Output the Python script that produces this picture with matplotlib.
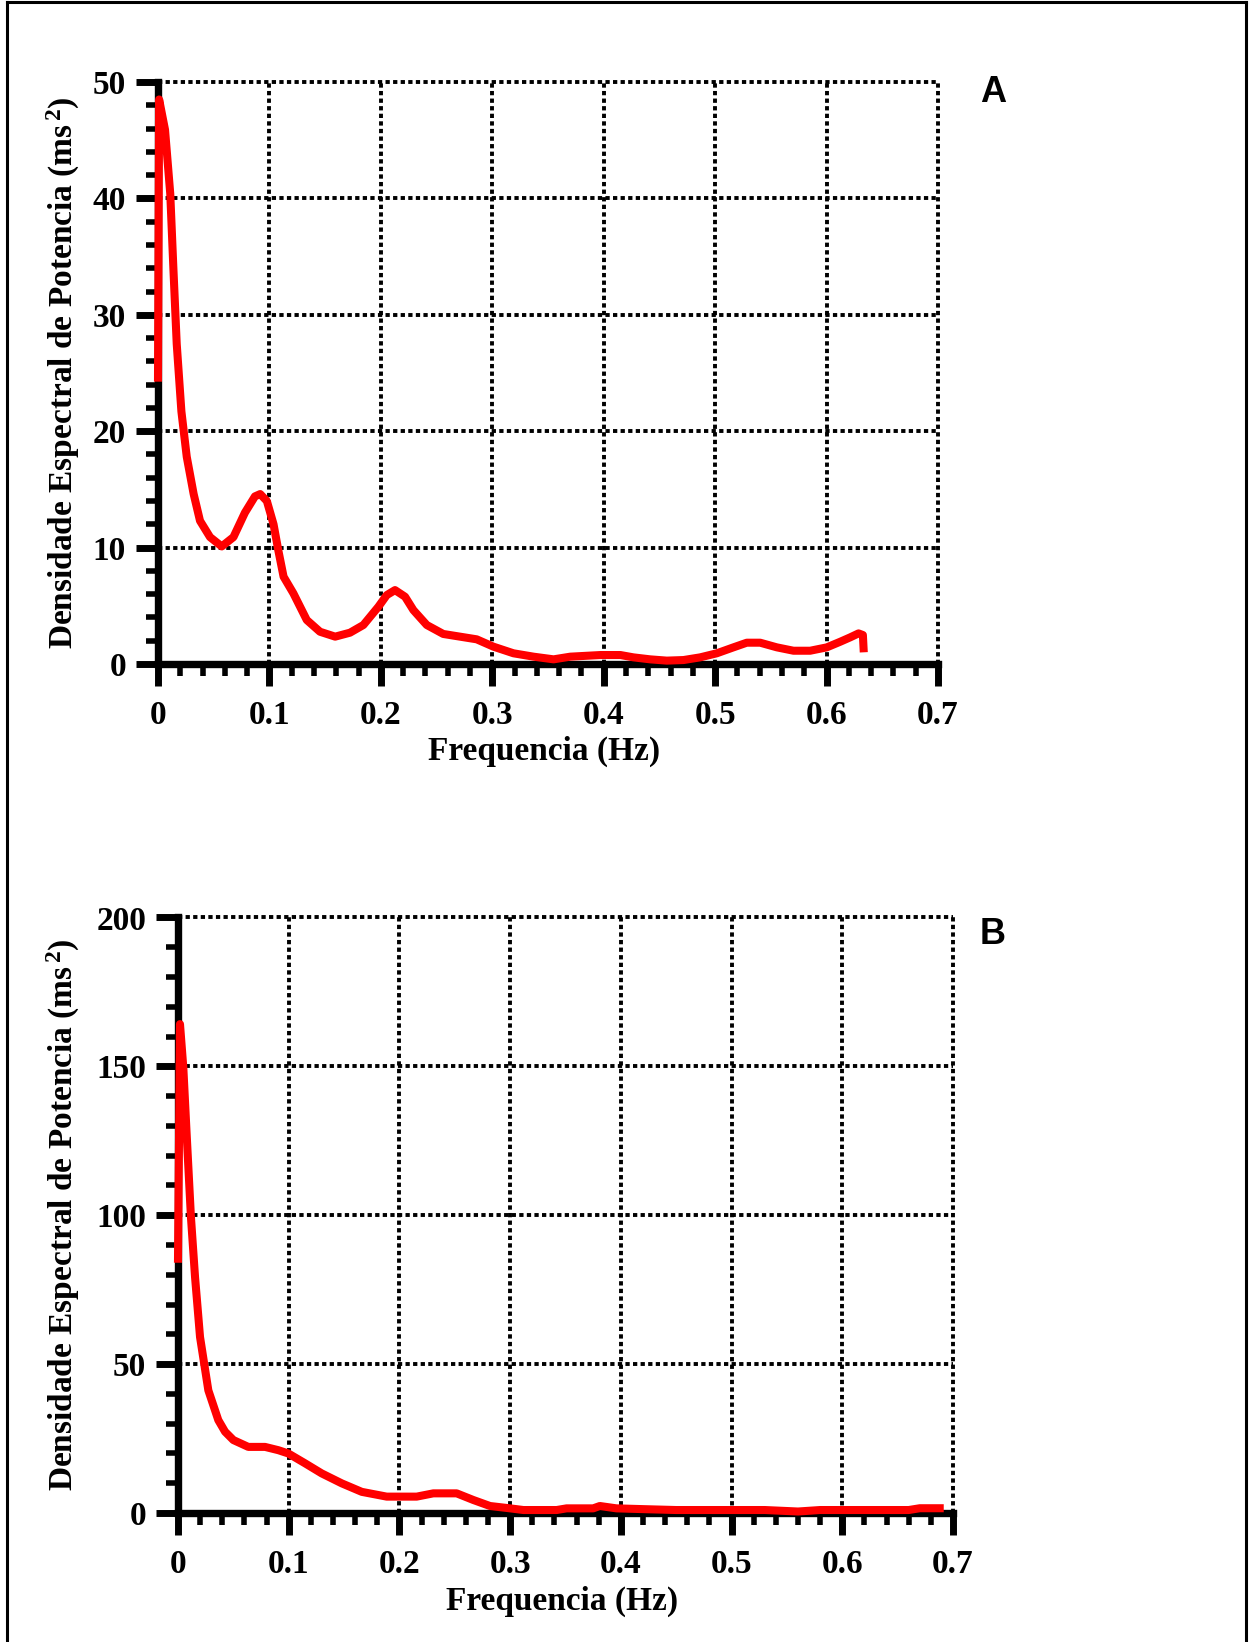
import matplotlib
matplotlib.use("Agg")
import matplotlib.pyplot as plt
from matplotlib.lines import Line2D
from matplotlib.ticker import MultipleLocator, FixedLocator, FixedFormatter

# ---------------- data ----------------
freq_ticks = [0.0, 0.1, 0.2, 0.3, 0.4, 0.5, 0.6, 0.7]
freq_tick_labels = ["0", "0.1", "0.2", "0.3", "0.4", "0.5", "0.6", "0.7"]

a_yticks = [0, 10, 20, 30, 40, 50]
b_yticks = [0, 50, 100, 150, 200]

a_freq = [0.0, 0.001, 0.0063, 0.011, 0.0138, 0.0168, 0.021, 0.0258, 0.032, 0.0377,
          0.0467, 0.0572, 0.0677, 0.078, 0.087, 0.0917, 0.0977, 0.1037, 0.108, 0.1127,
          0.1215, 0.1335, 0.1454, 0.159, 0.1723, 0.1843, 0.1978, 0.2053, 0.2127, 0.2217,
          0.2292, 0.2412, 0.256, 0.271, 0.286, 0.301, 0.319, 0.337, 0.355, 0.37,
          0.397, 0.415, 0.4267, 0.4417, 0.4566, 0.4716, 0.4865, 0.5015, 0.5164, 0.5284,
          0.5404, 0.5554, 0.5703, 0.5853, 0.6002, 0.6122, 0.6212, 0.6287, 0.6326, 0.6332]
a_psd = [24.6, 48.5, 45.9, 40.4, 34.0, 27.5, 21.7, 17.8, 14.6, 12.3,
         10.9, 10.1, 10.9, 13.0, 14.4, 14.6, 14.0, 12.0, 9.75, 7.5,
         6.07, 3.78, 2.77, 2.35, 2.69, 3.35, 4.92, 5.92, 6.35, 5.78,
         4.63, 3.35, 2.58, 2.35, 2.12, 1.49, 0.92, 0.63, 0.4, 0.63,
         0.77, 0.77, 0.57, 0.4, 0.29, 0.34, 0.57, 0.92, 1.43, 1.83,
         1.83, 1.43, 1.14, 1.14, 1.43, 1.91, 2.29, 2.63, 2.49, 1.35]

b_freq = [0.0, 0.0018, 0.0048, 0.0078, 0.0117, 0.0154, 0.0199, 0.0274, 0.0364, 0.0425,
          0.05, 0.0635, 0.0786, 0.0906, 0.0996, 0.1147, 0.1298, 0.1479, 0.166, 0.1885,
          0.2156, 0.2306, 0.2517, 0.2668, 0.2818, 0.30, 0.312, 0.342, 0.351, 0.375,
          0.381, 0.396, 0.42, 0.45, 0.5, 0.53, 0.56, 0.58, 0.66, 0.67, 0.688]
b_psd = [85.4, 164.2, 149.6, 127.3, 99.3, 79.2, 59.1, 41.2, 31.2, 27.3,
         24.5, 22.2, 22.2, 21.1, 20.0, 16.7, 13.3, 9.96, 7.1, 5.5,
         5.5, 6.6, 6.6, 4.36, 2.35, 1.56, 1.0, 1.0, 1.56, 1.56,
         2.35, 1.56, 1.3, 1.0, 1.0, 1.0, 0.5, 1.0, 1.0, 1.6, 1.6]

xlabel = "Frequencia (Hz)"
ylabel = r"Densidade Espectral de Potencia (ms$^{\,2}$)"

# ---------------- style ----------------
plt.rcParams["font.family"] = ["Liberation Serif", "DejaVu Serif"]
plt.rcParams["font.weight"] = "bold"
plt.rcParams["mathtext.fontset"] = "custom"
plt.rcParams["mathtext.rm"] = "Liberation Serif:bold"
plt.rcParams["mathtext.it"] = "Liberation Serif:bold"
plt.rcParams["mathtext.bf"] = "Liberation Serif:bold"

W, H = 1250, 1642
fig = plt.figure(figsize=(W / 100, H / 100), dpi=100)
fig.patch.set_facecolor("white")


def px_axes(left, right, bottom, top):
    return [left / W, 1 - bottom / H, (right - left) / W, (bottom - top) / H]


def style_axes(ax, ymax, yticks, yminor, ylab_x, xlab_y):
    ax.set_xlim(0, 0.7)
    ax.set_ylim(0, ymax)
    for s in ("top", "right"):
        ax.spines[s].set_visible(False)
    for s in ("left", "bottom"):
        ax.spines[s].set_linewidth(5.3)
        ax.spines[s].set_color("black")
    ax.xaxis.set_major_locator(FixedLocator(freq_ticks))
    ax.xaxis.set_major_formatter(FixedFormatter(freq_tick_labels))
    ax.xaxis.set_minor_locator(MultipleLocator(0.02))
    ax.yaxis.set_major_locator(FixedLocator(yticks))
    ax.yaxis.set_minor_locator(MultipleLocator(yminor))
    ax.tick_params(which="major", direction="out", length=16, width=5,
                   labelsize=24, color="black")
    ax.tick_params(which="minor", direction="out", length=8.5, width=4,
                   color="black")
    ax.tick_params(axis="x", which="major", pad=10)
    ax.tick_params(axis="y", which="major", pad=7)
    for lab in ax.get_xticklabels() + ax.get_yticklabels():
        lab.set_fontweight("bold")
    ax.grid(True, which="major", color="black", linewidth=2.8,
            linestyle=(0, (1.1, 0.85)))
    for gl in ax.get_xgridlines() + ax.get_ygridlines():
        gl.set_clip_on(False)
    ax.set_axisbelow(True)
    ax.set_xlabel(xlabel, fontsize=24, fontweight="bold")
    ax.set_ylabel(ylabel, fontsize=24, fontweight="bold")
    ax.xaxis.label.set_va("center")
    ax.yaxis.label.set_va("center")
    ax.yaxis.label.set_ha("center")
    ax.xaxis.set_label_coords(0.495, xlab_y)
    ax.yaxis.set_label_coords(ylab_x, 0.5)


# Panel A
axA = fig.add_axes(px_axes(158, 938, 664, 82))
axA.plot(a_freq, a_psd, color="#ff0000", linewidth=5.8, zorder=3, clip_on=False)
style_axes(axA, 50, a_yticks, 2, (63 - 158) / 780, -0.151)

# Panel B
axB = fig.add_axes(px_axes(178, 953, 1513, 917.5))
axB.plot(b_freq, b_psd, color="#ff0000", linewidth=5.8, zorder=3, clip_on=False)
style_axes(axB, 200, b_yticks, 10, (63 - 178) / 775, -0.148)

# Panel letters
fig.text(993 / W, 1 - 93 / H, "A", fontsize=26, fontweight="bold",
         family=["Liberation Sans", "DejaVu Sans"], ha="center", va="center")
fig.text(993 / W, 1 - 934 / H, "B", fontsize=26, fontweight="bold",
         family=["Liberation Sans", "DejaVu Sans"], ha="center", va="center")

# Figure border (left, top, right)
for xs, ys in (([7 / W, 7 / W], [0, 1 - 2 / H]),
               ([7 / W, 1246 / W], [1 - 2 / H, 1 - 2 / H]),
               ([1246 / W, 1246 / W], [0, 1 - 2 / H])):
    fig.add_artist(Line2D(xs, ys, color="black", linewidth=2.2,
                          transform=fig.transFigure))

fig.savefig("out.png", dpi=100)
